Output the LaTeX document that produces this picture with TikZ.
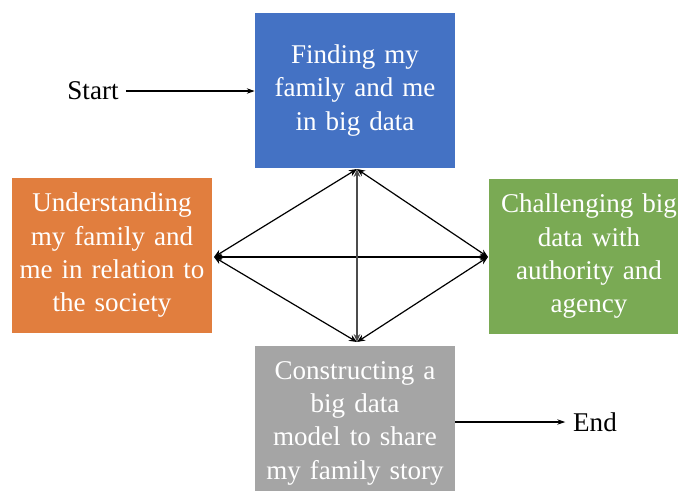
\documentclass[tikz,border=0pt]{standalone}
\usepackage{fontspec}
\setmainfont{Liberation Serif}
\usetikzlibrary{arrows.meta,positioning}

\definecolor{stageblue}{RGB}{68,114,196}
\definecolor{stageorange}{RGB}{225,126,62}
\definecolor{stagegreen}{RGB}{122,170,84}
\definecolor{stagegray}{RGB}{165,165,165}

\tikzset{
  stagebox/.style={minimum width=150pt, minimum height=116.25pt, inner sep=0pt,
    text width=145pt, align=center, text=white,
    font=\fontsize{20.3pt}{25pt}\selectfont},
  endlabel/.style={inner sep=0.75pt, font=\fontsize{20.3pt}{25pt}\selectfont},
  link/.style={line width=0.9pt, {Stealth[length=6pt,width=5pt]}-{Stealth[length=6pt,width=5pt]}},
  flow/.style={line width=0.9pt, -{Stealth[length=6pt,width=4pt]}}
}

\begin{document}
\begin{tikzpicture}[x=0.75pt,y=0.75pt,yscale=-1]
\useasboundingbox (0,0) rectangle (678,490);
\clip (0,0) rectangle (678,490);

% Stages
\node [stagebox, fill=stageblue]   (finding)      at (355,90.5)  {Finding my\\family and me\\in big data};
\node [stagebox, fill=stageorange] (understanding) at (112,255.5) {Understanding\\my family and\\me in relation to\\the society};
\node [stagebox, fill=stagegreen]  (challenging)  at (589,256.5) {Challenging big\\data with\\authority and\\agency};
\node [stagebox, fill=stagegray]   (constructing) at (355,423) {Constructing a\\big data\\model to share\\my family story};

% Start and end
\node [endlabel] (start) at (93,91) {Start};
\node [endlabel] (end) at (595,422) {End};

% Diamond corners
\coordinate (ptop)    at (357,169);
\coordinate (pbottom) at (357,342);
\coordinate (pleft)   at (214,257);
\coordinate (pright)  at (488,257);

% Links between stages
\draw [link] (pleft) -- (ptop);
\draw [link] (ptop) -- (pright);
\draw [link] (pleft) -- (pbottom);
\draw [link] (pbottom) -- (pright);
\draw [link] (pleft) -- (pright);
\draw [link, draw=black!70] (ptop) -- (pbottom);

\draw [flow] (start.east) ++(6,0) -- (finding.west |- start.east);
\draw [flow] (constructing.east |- end.west) -- ++(110,0);
\end{tikzpicture}
\end{document}
